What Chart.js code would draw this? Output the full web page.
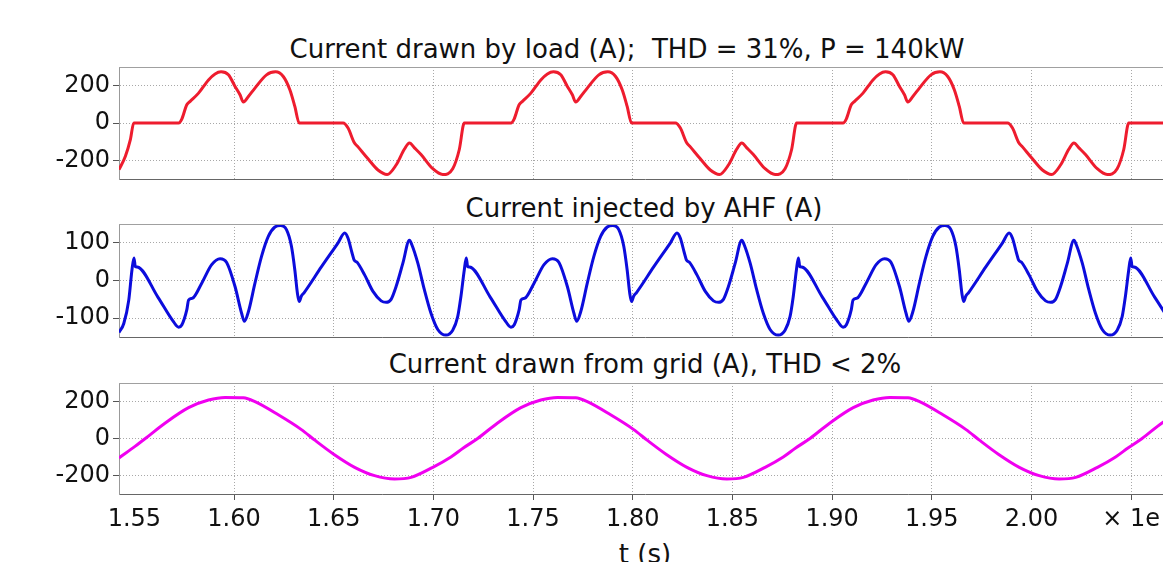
<!DOCTYPE html>
<html>
<head>
<meta charset="utf-8">
<script src="https://cdn.jsdelivr.net/npm/chart.js@4.4.1/dist/chart.umd.min.js"></script>
<style>
  html, body { margin: 0; padding: 0; background: #fff; overflow: hidden; width: 1163px; height: 562px; }
  .panel { position: absolute; left: 0; width: 1171px; }
  .title { position: absolute; width: 1000px; text-align: center; font-family: "DejaVu Sans"; font-size: 26px; line-height: 26px; color: #111; white-space: pre; }
</style>
</head>
<body>
<div class="title" style="left:127px; top:36px;">Current drawn by load (A);  THD = 31%, P = 140kW</div>
<div class="title" style="left:144px; top:195px;">Current injected by AHF (A)</div>
<div class="title" style="left:145px; top:351px;">Current drawn from grid (A), THD &lt; 2%</div>
<div class="title" style="left:145px; top:541px;">t (s)</div>

<div class="panel" style="top:60px; height:125px;"><canvas id="load"></canvas></div>
<div class="panel" style="top:217px; height:126px;"><canvas id="ahf"></canvas></div>
<div class="panel" style="top:376px; height:158px;"><canvas id="grid"></canvas></div>

<script>
const X_MIN = 1.5423;
const X_MAX = 2.07;
const timeTicks = [1.55, 1.6, 1.65, 1.7, 1.75, 1.8, 1.85, 1.9, 1.95, 2.0, 2.05];
const loadTicks = [-200, 0, 200];
const ahfTicks = [-100, 0, 100];
const gridTicks = [-200, 0, 200];

// load current (A)
const loadTime = [
  1.5423, 1.5455, 1.5480, 1.5497, 1.5722, 1.5738, 1.5763, 1.5780, 1.5822, 1.5872, 1.5905, 1.5935, 1.5972,
  1.6005, 1.6030, 1.6047, 1.6072, 1.6105, 1.6163, 1.6208, 1.6247, 1.6280, 1.6305, 1.6327, 1.6547, 1.6572,
  1.6602, 1.6622, 1.6672, 1.6722, 1.6768, 1.6813, 1.6855, 1.6880, 1.6905, 1.6938, 1.6997, 1.7047, 1.7097,
  1.7130, 1.7155,
  1.7389, 1.7405, 1.7430, 1.7447, 1.7489, 1.7539, 1.7572, 1.7602, 1.7639, 1.7672, 1.7697, 1.7714, 1.7739,
  1.7772, 1.7830, 1.7875, 1.7914, 1.7947, 1.7972, 1.7994, 1.8214, 1.8239, 1.8269, 1.8289, 1.8339, 1.8389,
  1.8435, 1.8480, 1.8522, 1.8547, 1.8572, 1.8605, 1.8664, 1.8714, 1.8764, 1.8797, 1.8822,
  1.9055, 1.9071, 1.9096, 1.9113, 1.9155, 1.9205, 1.9238, 1.9268, 1.9305, 1.9338, 1.9363, 1.9380, 1.9405,
  1.9438, 1.9496, 1.9541, 1.9580, 1.9613, 1.9638, 1.9660, 1.9880, 1.9905, 1.9935, 1.9955, 2.0005, 2.0055,
  2.0101, 2.0146, 2.0188, 2.0213, 2.0238, 2.0271, 2.0330, 2.0380, 2.0430, 2.0463, 2.0488, 2.0700
];
const loadCurrent = [
  -250, -178, -89, 0, 0, 21, 98, 116, 160, 231, 263, 274, 258,
  196, 151, 112, 142, 187, 258, 274, 249, 178, 89, 0, 0, -27,
  -103, -128, -192, -252, -276, -225, -139, -107, -133, -169, -245, -276, -245,
  -142, 0,
  0, 21, 98, 116, 160, 231, 263, 274, 258, 196, 151, 112, 142,
  187, 258, 274, 249, 178, 89, 0, 0, -27, -103, -128, -192, -252,
  -276, -225, -139, -107, -133, -169, -245, -276, -245, -142, 0,
  0, 21, 98, 116, 160, 231, 263, 274, 258, 196, 151, 112, 142,
  187, 258, 274, 249, 178, 89, 0, 0, -27, -103, -128, -192, -252,
  -276, -225, -139, -107, -133, -169, -245, -276, -245, -142, 0, 0
];

// AHF injected current (A)
const ahfTime = [
  1.5423, 1.5447, 1.5472, 1.5488, 1.5498, 1.5505, 1.5515, 1.5618, 1.5697, 1.5722, 1.5738, 1.5763, 1.5772,
  1.5792, 1.5838, 1.5888, 1.5930, 1.5963, 1.6005, 1.6038, 1.6052, 1.6072, 1.6105, 1.6138, 1.6172, 1.6205,
  1.6233, 1.6263, 1.6288, 1.6305, 1.6318, 1.6327, 1.6338, 1.6352, 1.6438, 1.6522, 1.6555, 1.6572, 1.6592,
  1.6602, 1.6618, 1.6655, 1.6697, 1.6738, 1.6763, 1.6788, 1.6813, 1.6847, 1.6880, 1.6892, 1.6922, 1.6955,
  1.6988, 1.7022, 1.7063, 1.7097, 1.7122, 1.7138,
  1.7155, 1.7165, 1.7172, 1.7182, 1.7285, 1.7364, 1.7389, 1.7405, 1.7430, 1.7439, 1.7459, 1.7505, 1.7555,
  1.7597, 1.7630, 1.7672, 1.7705, 1.7719, 1.7739, 1.7772, 1.7805, 1.7839, 1.7872, 1.7900, 1.7930, 1.7955,
  1.7972, 1.7985, 1.7994, 1.8005, 1.8019, 1.8105, 1.8189, 1.8222, 1.8239, 1.8259, 1.8269, 1.8285, 1.8322,
  1.8364, 1.8405, 1.8430, 1.8455, 1.8480, 1.8514, 1.8547, 1.8559, 1.8589, 1.8622, 1.8655, 1.8689, 1.8730,
  1.8764, 1.8789, 1.8805,
  1.8821, 1.8831, 1.8838, 1.8848, 1.8951, 1.9030, 1.9055, 1.9071, 1.9096, 1.9105, 1.9125, 1.9171, 1.9221,
  1.9263, 1.9296, 1.9338, 1.9371, 1.9385, 1.9405, 1.9438, 1.9471, 1.9505, 1.9538, 1.9566, 1.9596, 1.9621,
  1.9638, 1.9651, 1.9660, 1.9671, 1.9685, 1.9771, 1.9855, 1.9888, 1.9905, 1.9925, 1.9935, 1.9951, 1.9988,
  2.0030, 2.0071, 2.0096, 2.0121, 2.0146, 2.0180, 2.0213, 2.0225, 2.0255, 2.0288, 2.0321, 2.0355, 2.0396,
  2.0430, 2.0455, 2.0471,
  2.0488, 2.0498, 2.0505, 2.0515, 2.0618, 2.0700
];
const ahfCurrent = [
  -138, -114, -52, 28, 60, 37, 36, -44, -110, -124, -118, -78, -52,
  -47, -7, 42, 58, 48, -16, -87, -108, -83, -7, 64, 117, 142,
  146, 135, 91, 28, -34, -56, -41, -32, 36, 100, 126, 112, 73,
  55, 48, 15, -29, -54, -58, -50, -16, 46, 107, 95, 46, -25,
  -87, -130, -145, -132, -96, -43,
  28, 60, 37, 36, -44, -110, -124, -118, -78, -52, -47, -7, 42,
  58, 48, -16, -87, -108, -83, -7, 64, 117, 142, 146, 135, 91,
  28, -34, -56, -41, -32, 36, 100, 126, 112, 73, 55, 48, 15,
  -29, -54, -58, -50, -16, 46, 107, 95, 46, -25, -87, -130, -145,
  -132, -96, -43,
  28, 60, 37, 36, -44, -110, -124, -118, -78, -52, -47, -7, 42,
  58, 48, -16, -87, -108, -83, -7, 64, 117, 142, 146, 135, 91,
  28, -34, -56, -41, -32, 36, 100, 126, 112, 73, 55, 48, 15,
  -29, -54, -58, -50, -16, 46, 107, 95, 46, -25, -87, -130, -145,
  -132, -96, -43,
  28, 60, 37, 36, -44, -112
];

// grid current (A)
const gridTime = [
  1.5423, 1.5505, 1.5555, 1.5655, 1.5772, 1.5872, 1.5955, 1.6047, 1.6105, 1.6222, 1.6338, 1.6405, 1.6500,
  1.6605, 1.6705, 1.6805, 1.6888, 1.6997, 1.7088, 1.7152,
  1.7222, 1.7322, 1.7439, 1.7539, 1.7622, 1.7714, 1.7772, 1.7889, 1.8005, 1.8072, 1.8167, 1.8272, 1.8372,
  1.8472, 1.8555, 1.8664, 1.8755, 1.8819,
  1.8889, 1.8989, 1.9106, 1.9206, 1.9289, 1.9381, 1.9439, 1.9556, 1.9672, 1.9739, 1.9834, 1.9939, 2.0039,
  2.0139, 2.0222, 2.0331, 2.0422, 2.0486, 2.0555, 2.0655, 2.0700
];
const gridCurrent = [
  -105, -41, 0, 84, 167, 208, 222, 220, 199, 128, 48, -9, -85,
  -156, -201, -219, -210, -156, -100, -50,
  0, 84, 167, 208, 222, 220, 199, 128, 48, -9, -85, -156, -201,
  -219, -210, -156, -100, -50,
  0, 84, 167, 208, 222, 220, 199, 128, 48, -9, -85, -156, -201,
  -219, -210, -156, -100, -50, 0, 84, 112
];

const FONT = "DejaVu Sans";

const topBorder = {
  id: "topBorder",
  afterDraw(chart) {
    const { ctx, chartArea } = chart;
    ctx.save();
    ctx.strokeStyle = "#a0a0a0";
    ctx.lineWidth = 1;
    ctx.beginPath();
    ctx.moveTo(chartArea.left, Math.round(chartArea.top) + 0.5);
    ctx.lineTo(chartArea.right, Math.round(chartArea.top) + 0.5);
    ctx.stroke();
    ctx.restore();
  },
};

function isFirstTick(c) {
  return c.tick && Math.abs(c.tick.value - 1.55) < 1e-6;
}

function makePanel(id, times, values, color, yRange, yTicks, showX) {
  const points = times.map((t, i) => ({ x: t, y: values[i] }));

  new Chart(document.getElementById(id), {
    type: "line",
    data: {
      datasets: [
        {
          data: points,
          borderColor: color,
          borderWidth: 3,
          pointRadius: 0,
          fill: false,
          cubicInterpolationMode: "monotone",
        },
      ],
    },
    options: {
      responsive: true,
      maintainAspectRatio: false,
      animation: false,
      events: [],
      layout: { padding: { top: 7, bottom: showX ? 0 : 6, left: 0, right: 0 } },
      plugins: { legend: { display: false }, tooltip: { enabled: false } },
      scales: {
        x: {
          type: "linear",
          min: X_MIN,
          max: X_MAX,
          afterBuildTicks: (s) => {
            s.ticks = timeTicks.map((v) => ({ value: v }));
          },
          afterFit: (s) => {
            s.paddingLeft = 0;
            s.paddingRight = 0;
            if (showX) s.height = 40;
          },
          ticks: {
            display: showX,
            autoSkip: false,
            maxRotation: 0,
            padding: 5,
            color: "#111",
            font: { family: FONT, size: 24 },
            callback: (v) => (Math.abs(v - 2.05) < 1e-6 ? "× 1e" : v.toFixed(2)),
          },
          grid: {
            color: (c) => (isFirstTick(c) ? "rgba(0,0,0,0)" : "#a8a8a8"),
            drawTicks: showX,
            tickLength: 6,
            tickColor: (c) => (isFirstTick(c) ? "rgba(0,0,0,0)" : "#555"),
          },
          border: { color: "#666", dash: [1, 2] },
        },
        y: {
          min: yRange[0],
          max: yRange[1],
          afterBuildTicks: (s) => {
            s.ticks = yTicks.map((v) => ({ value: v }));
          },
          afterFit: (s) => {
            s.width = 119;
            s.paddingTop = 0;
            s.paddingBottom = 0;
          },
          ticks: {
            padding: 3,
            color: "#111",
            font: { family: FONT, size: 24 },
            callback: (v) => String(v),
          },
          grid: { color: "#a8a8a8", tickLength: 6, tickColor: "#555" },
          border: { color: "#999", dash: [1, 2] },
        },
      },
    },
    plugins: [topBorder],
  });
}

makePanel("load", loadTime, loadCurrent, "#ee1c2e", [-300, 300], loadTicks, false);
makePanel("ahf", ahfTime, ahfCurrent, "#0c0cdc", [-150, 150], ahfTicks, false);
makePanel("grid", gridTime, gridCurrent, "#f000f0", [-300, 300], gridTicks, true);
</script>
</body>
</html>
